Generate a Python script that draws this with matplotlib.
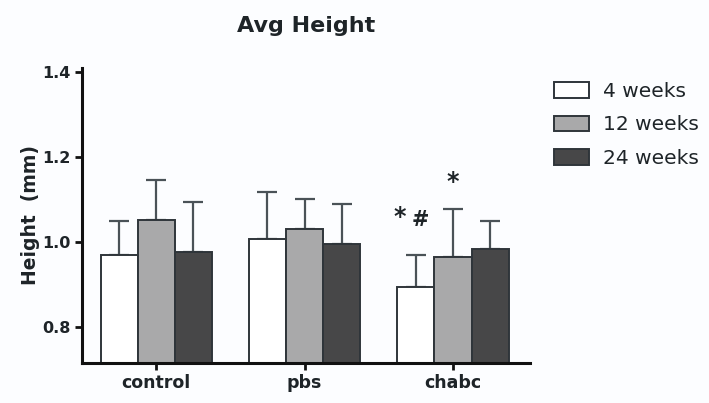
import numpy as np
import matplotlib.pyplot as plt

groups = ['control', 'pbs', 'chabc']
series = ['4 weeks', '12 weeks', '24 weeks']
means = {
    '4 weeks': [0.970, 1.008, 0.894],
    '12 weeks': [1.051, 1.031, 0.965],
    '24 weeks': [0.976, 0.996, 0.984],
}
errs = {
    '4 weeks': [0.080, 0.111, 0.075],
    '12 weeks': [0.094, 0.071, 0.112],
    '24 weeks': [0.118, 0.094, 0.065],
}
fills = ['#ffffff', '#a9a9aa', '#474748']
yticks = [0.8, 1.0, 1.2, 1.4]
# significance marks: (x in data units, y in data units, symbol)
marks = [(1.643, 1.059, '*'), (1.778, 1.052, '#'), (2.0, 1.141, '*')]

plt.rcParams['font.family'] = ['DejaVu Sans']
ink = '#1e2428'

fig = plt.figure(figsize=(7.09, 4.03), dpi=100)
fig.patch.set_facecolor('#fcfdff')
ax = fig.add_axes([0.1157, 0.0993, 0.632, 0.732])
ax.set_facecolor('#fcfdff')

x = np.arange(len(groups))
w = 0.25
edge = '#2f353a'
for i, name in enumerate(series):
    pos = x + (i - 1) * w
    ax.bar(pos, means[name], width=w, bottom=0, color=fills[i],
           edgecolor=edge, linewidth=1.4, label=name, zorder=2)
    ax.errorbar(pos, means[name], yerr=[np.zeros(3), errs[name]],
                fmt='none', ecolor='#4a5257', elinewidth=1.6,
                capsize=7, capthick=1.6, zorder=1)

for mx, my, sym in marks:
    ax.text(mx, my, sym, ha='center', va='center',
            fontsize=17 if sym == '*' else 15, fontweight='bold', color=ink)

ax.set_xlim(-0.5, 2.52)
ax.set_ylim(0.715, 1.41)
ax.set_yticks(yticks)
ax.set_yticklabels([f'{v:.1f}' for v in yticks])
ax.set_xticks(x)
ax.set_xticklabels(groups)

for side in ['top', 'right']:
    ax.spines[side].set_visible(False)
for side in ['left', 'bottom']:
    ax.spines[side].set_linewidth(2.2)
    ax.spines[side].set_color('#111111')
ax.tick_params(axis='both', direction='out', length=5, width=2, color='#111111',
               pad=3)
ax.tick_params(axis='y', labelsize=11.5)
ax.tick_params(axis='x', labelsize=12.5)
for lab in ax.get_xticklabels() + ax.get_yticklabels():
    lab.set_fontweight('bold')
    lab.set_color(ink)

ax.set_ylabel('Height  (mm)', fontsize=13.5, fontweight='bold', color=ink,
              labelpad=2)
fig.text(0.432, 0.935, 'Avg Height', ha='center', va='center', fontsize=16,
         fontweight='bold', color=ink)

leg = fig.legend(*ax.get_legend_handles_labels(), loc='upper left',
                 bbox_to_anchor=(0.781, 0.797), frameon=False,
                 fontsize=14.5, handlelength=1.75, handleheight=0.8,
                 labelspacing=0.72, handletextpad=0.7,
                 borderpad=0, borderaxespad=0)
for t in leg.get_texts():
    t.set_color(ink)

fig.savefig('out.png', dpi=100, facecolor=fig.get_facecolor())
